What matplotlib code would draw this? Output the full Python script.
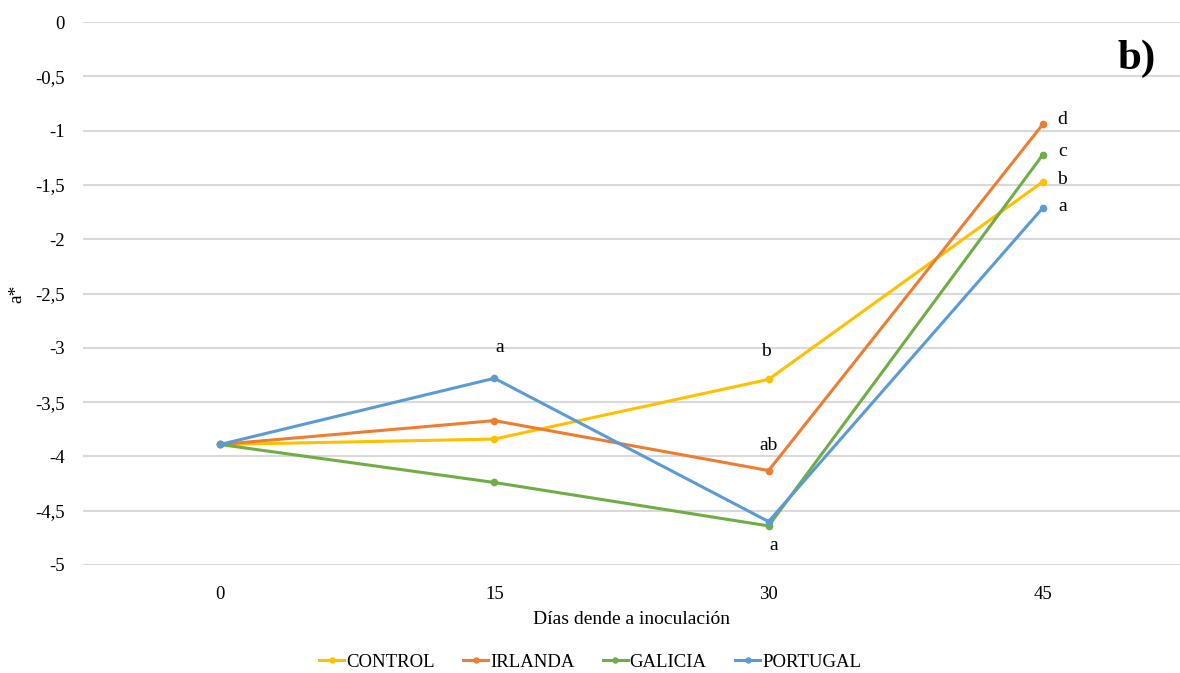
import numpy as np
import matplotlib.pyplot as plt
from matplotlib.ticker import FuncFormatter, MultipleLocator

plt.rcParams['font.family'] = ['Liberation Serif', 'DejaVu Serif']

dias = ['0', '15', '30', '45']
control = [-3.89, -3.84, -3.29, -1.47]
irlanda = [-3.89, -3.67, -4.13, -0.94]
galicia = [-3.89, -4.24, -4.64, -1.22]
portugal = [-3.89, -3.28, -4.60, -1.71]

series = [('CONTROL', control, '#FFC000'),
          ('IRLANDA', irlanda, '#ED7D31'),
          ('GALICIA', galicia, '#70AD47'),
          ('PORTUGAL', portugal, '#5B9BD5')]

# significance letters: (day index, series values, letter, dx, dy in points)
letras = [(1, portugal, 'a', 4, 22),
          (2, control, 'b', -2, 20),
          (2, irlanda, 'ab', 0, 18),
          (2, galicia, 'a', 4, -14),
          (3, irlanda, 'd', 14, 3.6),
          (3, galicia, 'c', 14, 2),
          (3, control, 'b', 14, 1.5),
          (3, portugal, 'a', 14, 1)]

fig = plt.figure(figsize=(11.8, 6.73), dpi=100)
ax = fig.add_axes([0.0703, 0.1605, 0.9297, 0.8065])

x = np.arange(len(dias))
for nombre, vals, col in series:
    ax.plot(x, vals, color=col, lw=2.2, marker='o', ms=4.5, label=nombre)

for i, vals, txt, dx, dy in letras:
    ax.annotate(txt, (x[i], vals[i]), xytext=(dx, dy), textcoords='offset points',
                ha='center', va='center', fontsize=14)

ax.text(0.978, 0.933, 'b)', transform=ax.transAxes, ha='right', va='center',
        fontsize=31, fontweight='bold')

ax.set_xlim(-0.5, 3.5)
ax.set_ylim(-5, 0)
ax.set_xticks(x)
ax.set_xticklabels(dias)
ax.yaxis.set_major_locator(MultipleLocator(0.5))
ax.yaxis.set_major_formatter(FuncFormatter(lambda v, p: ('%g' % v).replace('.', ',')))
ax.grid(axis='y', color='#d9d9d9', lw=1.5)
ax.set_axisbelow(True)
for s in ax.spines.values():
    s.set_visible(False)
ax.tick_params(length=0, labelsize=13.5, pad=13)
ax.tick_params(axis='x', pad=15)

ax.set_xlabel('Días dende a inoculación', fontsize=14, labelpad=6)
ax.set_ylabel('a*', fontsize=14, labelpad=7)

fig.legend(loc='lower center', bbox_to_anchor=(0.5, -0.022), ncol=4, frameon=False,
           fontsize=13.5, handlelength=1.35, handletextpad=0.1, columnspacing=1.5,
           markerscale=0.8)

fig.savefig('out.png', dpi=100)
